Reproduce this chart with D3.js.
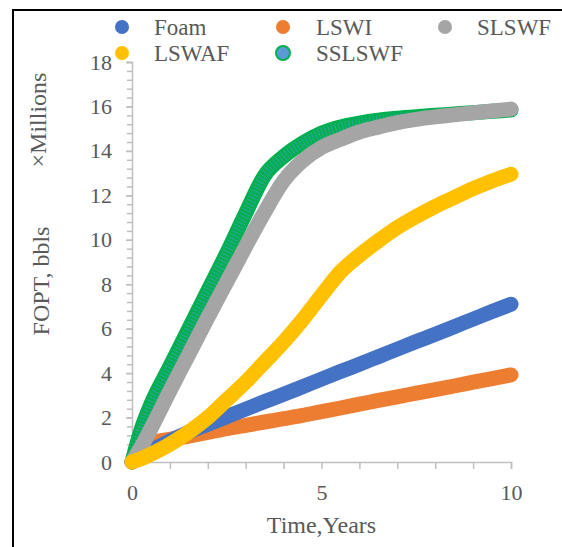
<!DOCTYPE html>
<html>
<head>
<meta charset="utf-8">
<script src="https://cdn.jsdelivr.net/npm/d3@7"></script>
<style>
  html, body { margin: 0; padding: 0; background: #fff; }
  svg { display: block; }
  text { font-family: "Liberation Serif", "Times New Roman", serif; fill: #595959; }
</style>
</head>
<body>
<svg id="chart" width="562" height="547"></svg>
<script>
// ---- data ----
const years   = [0, 0.25, 0.5, 1, 1.5, 2, 2.5, 3, 3.5, 4, 4.5, 5, 5.5, 6, 6.5, 7, 7.5, 8, 8.5, 9, 9.5, 10];
const foam    = [0, 0.25, 0.5, 0.95, 1.35, 1.7, 2.04, 2.38, 2.72, 3.05, 3.39, 3.73, 4.07, 4.4, 4.74, 5.08, 5.42, 5.75, 6.09, 6.43, 6.77, 7.1];
const lswi    = [0, 0.55, 0.85, 1.02, 1.17, 1.33, 1.5, 1.65, 1.8, 1.95, 2.1, 2.27, 2.43, 2.6, 2.77, 2.93, 3.1, 3.26, 3.42, 3.59, 3.75, 3.92];
const slswf   = [0, 0.7, 1.5, 3.2, 4.85, 6.5, 8.1, 9.7, 11.25, 12.65, 13.55, 14.15, 14.52, 14.85, 15.07, 15.27, 15.42, 15.53, 15.62, 15.71, 15.8, 15.88];
const lswaf   = [0, 0.15, 0.35, 0.8, 1.35, 2.0, 2.8, 3.6, 4.5, 5.4, 6.4, 7.5, 8.55, 9.3, 9.95, 10.55, 11.05, 11.5, 11.9, 12.3, 12.65, 12.95];
const sslswf  = [0, 1.5, 2.6, 4.3, 6.0, 7.7, 9.4, 11.2, 12.9, 13.75, 14.35, 14.8, 15.08, 15.25, 15.38, 15.47, 15.54, 15.6, 15.66, 15.72, 15.78, 15.84];

const seriesNames  = ["Foam", "LSWI", "SLSWF", "LSWAF", "SSLSWF"];
const xTickValues  = [0, 1, 2, 3, 4, 5, 6, 7, 8, 9, 10];
const xTickLabels  = [0, 5, 10];
const yTickValues  = [0, 2, 4, 6, 8, 10, 12, 14, 16, 18];
const xTitle = "Time,Years";
const yTitle = "FOPT, bbls";
const unitLabel = "×Millions";

// ---- styles ----
const colors = { Foam: "#4472c4", LSWI: "#ed7d31", SLSWF: "#a5a5a5", LSWAF: "#ffc000", SSLSWF: "#00b050" };
const valuesByName = { Foam: foam, LSWI: lswi, SLSWF: slswf, LSWAF: lswaf, SSLSWF: sslswf };

const svg = d3.select("#chart");

// outer frame
svg.append("rect").attr("x", 13).attr("y", 10).attr("width", 700).attr("height", 700)
  .attr("fill", "none").attr("stroke", "#000").attr("stroke-width", 2);

const x = d3.scaleLinear().domain([0, 10]).range([132, 511]);
const y = d3.scaleLinear().domain([0, 18]).range([462, 62]);

// axes
const axisColor = "#bfbfbf";
const gx = svg.append("g").attr("transform", `translate(0,${y(0)})`)
  .call(d3.axisBottom(x).tickValues(xTickValues).tickSize(7).tickPadding(15)
    .tickFormat(d => xTickLabels.includes(d) ? d : ""));
const gyMinor = svg.append("g").attr("transform", `translate(${x(0)},0)`)
  .call(d3.axisLeft(y).tickValues(d3.range(0, 18.001, 0.4)).tickSize(5).tickFormat(""));
const gy = svg.append("g").attr("transform", `translate(${x(0)},0)`)
  .call(d3.axisLeft(y).tickValues(yTickValues).tickSize(6).tickPadding(14));
[gx, gy, gyMinor].forEach(g => {
  g.select(".domain").attr("stroke", axisColor).attr("stroke-width", 1.5);
  g.selectAll(".tick line").attr("stroke", axisColor).attr("stroke-width", 1.5);
  g.selectAll("text").style("font-size", "22px").attr("fill", "#595959")
    .style("font-family", '"Liberation Serif", serif');
});
gyMinor.select(".domain").remove();

// titles
svg.append("text").attr("x", x(5)).attr("y", 533).attr("text-anchor", "middle")
  .style("font-size", "24px").text(xTitle);
svg.append("text").attr("transform", `translate(49,281) rotate(-90)`).attr("text-anchor", "middle")
  .style("font-size", "24px").text(yTitle);
svg.append("text").attr("transform", `translate(46,120) rotate(-90)`).attr("text-anchor", "middle")
  .style("font-size", "24px").text(unitLabel);

// series
const line = d3.line().x(d => x(d[0])).y(d => y(d[1])).curve(d3.curveMonotoneX);
const drawOrder = ["SSLSWF", "LSWI", "Foam", "SLSWF", "LSWAF"];
const plot = svg.append("g");
drawOrder.forEach(name => {
  const pts = years.map((t, i) => [t, valuesByName[name][i]]);
  plot.append("path").datum(pts).attr("d", line).attr("fill", "none")
    .attr("stroke", colors[name]).attr("stroke-width", 15)
    .attr("stroke-linecap", "round").attr("stroke-linejoin", "round");
  if (name === "SSLSWF") {
    plot.append("path").datum(pts).attr("d", line).attr("fill", "none")
      .attr("stroke", "#5b9bd5").attr("stroke-width", 10).attr("stroke-opacity", 0.55)
      .attr("stroke-dasharray", "1 2.5")
      .attr("stroke-linecap", "butt").attr("stroke-linejoin", "round");
  }
});

// legend
const legendItems = [
  { name: "Foam",   cx: 122, cy: 27, tx: 154 },
  { name: "LSWI",   cx: 283, cy: 27, tx: 316 },
  { name: "SLSWF",  cx: 445, cy: 27, tx: 477 },
  { name: "LSWAF",  cx: 122, cy: 53, tx: 154 },
  { name: "SSLSWF", cx: 283, cy: 53, tx: 316 }
];
const lg = svg.append("g");
legendItems.forEach(it => {
  const c = lg.append("circle").attr("cx", it.cx).attr("cy", it.cy).attr("r", 7);
  if (it.name === "SSLSWF") c.attr("fill", "#5b9bd5").attr("stroke", "#00b050").attr("stroke-width", 2);
  else c.attr("fill", colors[it.name]);
  lg.append("text").attr("x", it.tx).attr("y", it.cy + 8).style("font-size", "23px").text(it.name);
});
</script>
</body>
</html>
